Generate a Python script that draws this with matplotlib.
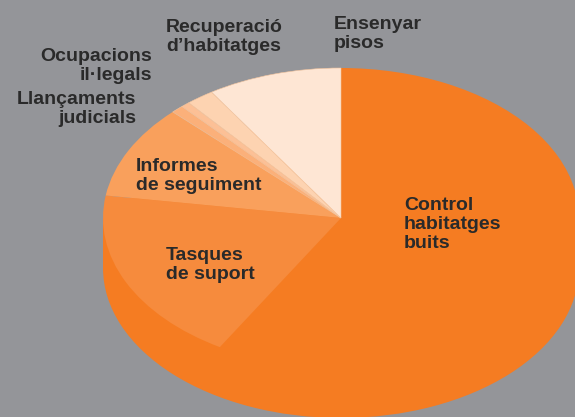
import matplotlib
matplotlib.use('Agg')
import matplotlib.pyplot as plt
from matplotlib.patches import Rectangle

# shares of the pie, clockwise from 12 o'clock
labels = ['Control\nhabitatges\nbuits', 'Tasques\nde suport', 'Informes\nde seguiment',
          'Llançaments\njudicials', 'Ocupacions\nil·legals',
          'Recuperació\nd’habitatges', 'Ensenyar\npisos']
values = [58.5, 18.9, 10.1, 0.85, 0.6, 1.9, 9.15]
colors = ['#F57C22', '#F68B3D', '#F9A05C', '#FBB07A', '#FCC096', '#FDD3B1', '#FEE6D4']

W, H = 575, 417
cx, cy = 341, 218    # pie centre in pixels
rx, ry = 238, 150    # ellipse radii
depth = 50           # side height

plt.rcParams['font.family'] = ['Liberation Sans', 'DejaVu Sans']

fig = plt.figure(figsize=(W / 100, H / 100), dpi=100, facecolor='#949599')
ax = fig.add_axes([0, 0, 1, 1])

# side of the cake first, one flat colour
ax.pie([1], colors=[colors[0]], center=(0, -depth / ry), radius=1, wedgeprops={'linewidth': 0})
ax.add_patch(Rectangle((-1, -depth / ry), 2, depth / ry, color=colors[0], lw=0))

# top face
wedges, _ = ax.pie(values, colors=colors, startangle=90, counterclock=False, radius=1,
                   wedgeprops={'linewidth': 0})
# faint seams only on the pale slices
for w in wedges[3:]:
    w.set_edgecolor('#F3C49E')
    w.set_linewidth(0.4)

ax.set_aspect('auto')
ax.set_xlim(-cx / rx, (W - cx) / rx)
ax.set_ylim(-(H - cy) / ry, cy / ry)
ax.axis('off')

# x, last baseline, alignment in pixels
places = [(404, 248, 'left'), (166, 279, 'left'), (136, 190, 'left'),
          (136, 123, 'right'), (152, 80, 'right'), (166, 51, 'left'), (334, 48, 'left')]
for lab, (x, y, ha) in zip(labels, places):
    fig.text(x / W, 1 - y / H, lab, ha=ha, va='baseline', multialignment=ha, fontsize=14,
             fontweight='bold', color='#2A2A2A', linespacing=1.17)

fig.savefig('out.png', dpi=100, facecolor=fig.get_facecolor())
